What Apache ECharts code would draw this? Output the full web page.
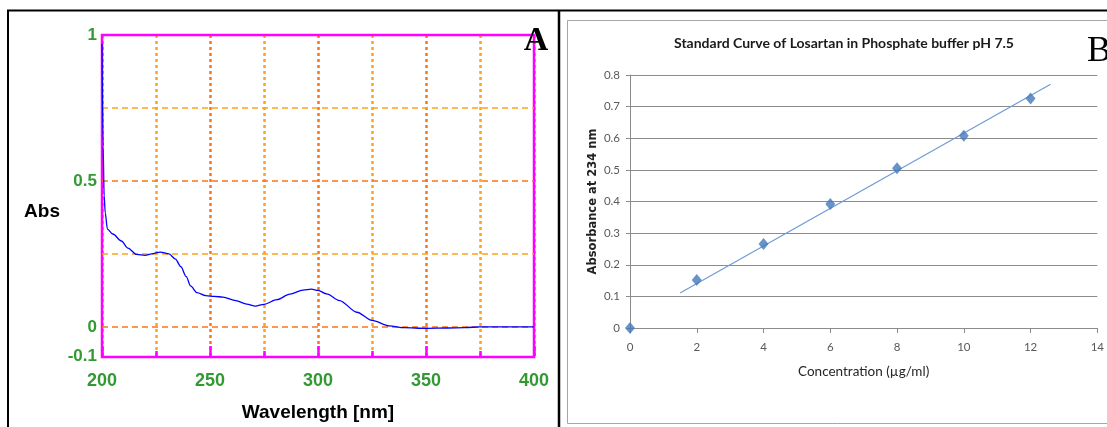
<!DOCTYPE html>
<html>
<head>
<meta charset="utf-8">
<script src="https://cdn.jsdelivr.net/npm/echarts@6/dist/echarts.min.js"></script>
<style>
  html, body { margin: 0; padding: 0; background: #fff; }
  #chart { width: 1107px; height: 427px; }
</style>
</head>
<body>
<div id="chart"></div>
<script>
// ---- panel A : UV spectrum ----
const wavelength = [200, 200.5, 201, 201.5, 202.5, 205, 209, 212, 216, 220, 223, 227, 231, 234, 236.5, 239, 241, 244, 248, 252,
  256, 262, 267, 271, 275, 281, 287, 293, 297, 300, 304, 310, 318, 325, 333, 340, 350, 360, 368, 375, 400];
const absorbance = [0.97, 0.62, 0.45, 0.39, 0.335, 0.318, 0.294, 0.27, 0.248, 0.245, 0.25, 0.256, 0.25, 0.232, 0.206, 0.172, 0.14, 0.117, 0.107, 0.104,
  0.102, 0.09, 0.078, 0.071, 0.077, 0.093, 0.112, 0.126, 0.129, 0.125, 0.113, 0.09, 0.05, 0.022, 0.003, -0.003, -0.005, -0.004, -0.003, 0, 0];
const specGridLines = [0, 0.25, 0.5, 0.75];
const specYLabels = [-0.1, 0, 0.5, 1];

// ---- panel B : standard curve ----
const concentration = [0, 2, 4, 6, 8, 10, 12];
const stdAbsorbance = [0, 0.152, 0.266, 0.392, 0.505, 0.608, 0.726];
const trendRange = [1.5, 12.6];

// least squares line through the standard points
function linFit(xs, ys) {
  const n = xs.length;
  const mx = xs.reduce((a, b) => a + b, 0) / n;
  const my = ys.reduce((a, b) => a + b, 0) / n;
  let sxy = 0, sxx = 0;
  for (let i = 0; i < n; i++) {
    sxy += (xs[i] - mx) * (ys[i] - my);
    sxx += (xs[i] - mx) * (xs[i] - mx);
  }
  const k = sxy / sxx;
  return { k: k, b: my - k * mx };
}
const fit = linFit(concentration, stdAbsorbance);

const green = '#339933';
const darkOrange = '#ff7415';
const lightOrange = '#ffa31a';
const fontA = '"Liberation Sans", Arial, sans-serif';
const fontB = 'Lato, "Open Sans", sans-serif';

const chart = echarts.init(document.getElementById('chart'));

let option = {
  animation: false,
  backgroundColor: '#fff',
  grid: [
    { left: 102, top: 35, width: 432, height: 322, show: false },
    { left: 630, top: 75, width: 468, height: 253, show: false }
  ],
  xAxis: [
    {
      gridIndex: 0, type: 'value', min: 200, max: 400, interval: 50,
      name: 'Wavelength [nm]', nameLocation: 'middle', nameGap: 47,
      nameTextStyle: { fontFamily: fontA, fontWeight: 'bold', fontSize: 19, color: '#000' },
      axisLine: { show: false, onZero: false },
      axisTick: { show: true, inside: true, length: 10, lineStyle: { color: '#ff00ff', width: 2.5 } },
      minorTick: { show: true, splitNumber: 2, length: 5, lineStyle: { color: '#ff00ff', width: 2.5 } },
      axisLabel: { color: green, fontFamily: fontA, fontWeight: 'bold', fontSize: 18, margin: 16 },
      splitLine: { show: true, lineStyle: { color: darkOrange, type: [3, 3], width: 2.5 } },
      minorSplitLine: { show: true, lineStyle: { color: lightOrange, type: [3, 3], width: 2.5 } }
    },
    {
      gridIndex: 1, type: 'value', min: 0, max: 14, interval: 2,
      name: 'Concentration (µg/ml)', nameLocation: 'middle', nameGap: 37,
      nameTextStyle: { fontFamily: fontB, fontSize: 13.5, color: '#262626' },
      axisLine: { show: true, onZero: false, lineStyle: { color: '#8c8c8c', width: 1 } },
      axisTick: { show: true, length: 5, lineStyle: { color: '#8c8c8c' } },
      axisLabel: { color: '#595959', fontFamily: fontB, fontSize: 11.5, margin: 13 },
      splitLine: { show: false }
    }
  ],
  yAxis: [
    {
      gridIndex: 0, type: 'value', min: -0.1, max: 1, interval: 0.05,
      axisLine: { show: false },
      axisTick: { show: false },
      splitLine: { show: false },
      axisLabel: {
        color: green, fontFamily: fontA, fontWeight: 'bold', fontSize: 17, margin: 5,
        showMinLabel: true, showMaxLabel: true,
        formatter: function (v) {
          return specYLabels.some(t => Math.abs(t - v) < 1e-6) ? String(Math.round(v * 10) / 10) : '';
        }
      }
    },
    {
      gridIndex: 1, type: 'value', min: 0, max: 0.8, interval: 0.1,
      name: 'Absorbance at 234 nm', nameLocation: 'middle', nameGap: 31,
      nameTextStyle: { fontFamily: '"DejaVu Sans", sans-serif', fontWeight: 'bold', fontSize: 11.5, color: '#222' },
      axisLine: { show: true, lineStyle: { color: '#8c8c8c', width: 1 } },
      axisTick: { show: true, length: 4, lineStyle: { color: '#8c8c8c' } },
      axisLabel: { color: '#595959', fontFamily: fontB, fontSize: 11.5, margin: 10 },
      splitLine: { show: true, lineStyle: { color: '#8c8c8c', width: 1 } }
    }
  ],
  series: [
    {
      // dashed horizontal grid of the spectrum
      type: 'line', xAxisIndex: 0, yAxisIndex: 0, data: [], z: 1, silent: true,
      markLine: {
        silent: true, symbol: ['none', 'none'], label: { show: false },
        data: specGridLines.map((v, i) => ({
          yAxis: v,
          lineStyle: { color: i % 2 === 0 ? darkOrange : lightOrange, type: [6, 4], width: 1.5 }
        }))
      }
    },
    {
      name: 'spectrum', type: 'line', xAxisIndex: 0, yAxisIndex: 0,
      data: wavelength.map((w, i) => [w, absorbance[i]]),
      showSymbol: false, smooth: 0.3, smoothMonotone: 'x', z: 6,
      lineStyle: { color: '#0000ff', width: 1.3 }
    },
    {
      name: 'trend', type: 'line', xAxisIndex: 1, yAxisIndex: 1,
      data: trendRange.map(x => [x, fit.k * x + fit.b]),
      showSymbol: false, z: 4,
      lineStyle: { color: '#6d9bd4', width: 1.2 }
    },
    {
      name: 'standard', type: 'scatter', xAxisIndex: 1, yAxisIndex: 1,
      data: concentration.map((c, i) => [c, stdAbsorbance[i]]),
      symbol: 'diamond', symbolSize: [10, 12], z: 5,
      itemStyle: { color: '#4278bb' }
    }
  ],
  graphic: [
    { type: 'line', z: 10, shape: { x1: 7, y1: 10.5, x2: 1107, y2: 10.5 }, style: { stroke: '#000', lineWidth: 2 } },
    { type: 'line', z: 10, shape: { x1: 8, y1: 10, x2: 8, y2: 427 }, style: { stroke: '#000', lineWidth: 2 } },
    { type: 'line', z: 10, shape: { x1: 559, y1: 10, x2: 559, y2: 427 }, style: { stroke: '#000', lineWidth: 2.5 } },
    { type: 'rect', z: 0, shape: { x: 567.5, y: 20.5, width: 600, height: 403 }, style: { stroke: '#a6a6a6', fill: 'none', lineWidth: 1 } },
    { type: 'rect', z: 3, shape: { x: 102, y: 35, width: 432, height: 322 }, style: { stroke: '#ff00ff', fill: 'none', lineWidth: 2.5 } },
    { type: 'text', z: 10, style: { text: 'Abs', x: 42, y: 212, font: 'bold 19px "Liberation Sans", Arial', fill: '#000', align: 'center', verticalAlign: 'middle', textAlign: 'center', textVerticalAlign: 'middle' } },
    { type: 'text', z: 10, style: { text: 'A', x: 536, y: 41, font: 'bold 34px "Liberation Serif", serif', fill: '#000', align: 'center', verticalAlign: 'middle', textAlign: 'center', textVerticalAlign: 'middle' } },
    { type: 'text', z: 10, style: { text: 'B', x: 1087, y: 52, font: '36px "Liberation Serif", serif', fill: '#000', align: 'left', verticalAlign: 'middle', textAlign: 'left', textVerticalAlign: 'middle' } },
    { type: 'text', z: 10, style: { text: 'Standard Curve of Losartan in Phosphate buffer pH 7.5', x: 844, y: 43, font: 'bold 14px Lato, "Open Sans", sans-serif', fill: '#1a1a1a', align: 'center', verticalAlign: 'middle', textAlign: 'center', textVerticalAlign: 'middle' } }
  ]
};

chart.setOption(option);
</script>
</body>
</html>
